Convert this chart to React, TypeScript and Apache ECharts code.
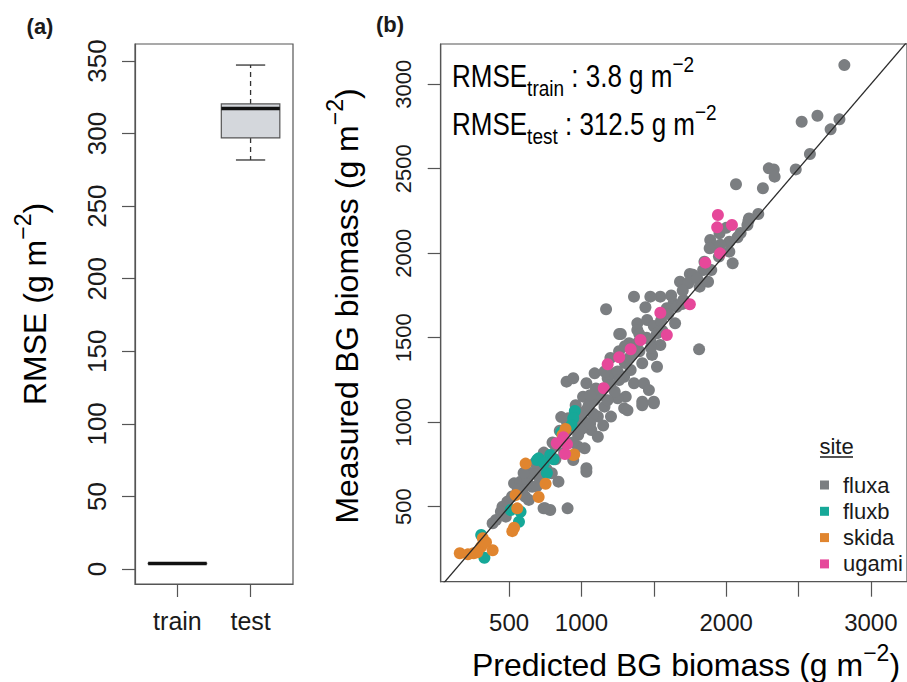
import React, { useEffect, useRef } from 'react';
import * as echarts from 'echarts';

// ---------- data ----------
const boxCategories = ['train', 'test'];
const boxPositions = [1, 2];
// [min, Q1, median, Q3, max]
const trainStats = [3.6, 3.7, 3.8, 3.9, 4.0];
const testStats = [281.8, 297.0, 317.2, 320.4, 347.2];
const rmseTicks = [0, 50, 100, 150, 200, 250, 300, 350];

const bgTicks = [500, 1000, 1500, 2000, 2500, 3000];
const bgXLabels = [500, 1000, 2000, 3000];
const siteNames = ['fluxa', 'fluxb', 'skida', 'ugami'];
const siteColors = ['#7b7e81', '#16a898', '#e0852f', '#e6489a'];

// [predicted, measured]
const fluxa = [
  [2817, 3113], [2522, 2778], [2631, 2813], [2783, 2792], [2722, 2733], [2579, 2587], [2481, 2496],
  [2295, 2502], [2329, 2496], [2335, 2453], [2068, 2408], [2254, 2384], [2158, 2206], [2222, 2232],
  [2154, 2192], [2147, 2167], [2079, 2094], [2022, 2068], [1954, 2118], [1890, 2078], [1909, 2038],
  [1886, 2029], [2022, 2009], [2045, 1940], [1841, 1900], [1897, 1900], [1749, 1877], [1772, 1872],
  [1681, 1831], [1738, 1822], [1817, 1802], [1875, 1831], [1704, 1723], [1636, 1703], [1545, 1743],
  [1476, 1743], [1363, 1743], [1170, 1668], [1442, 1680], [1590, 1674], [1659, 1683], [1386, 1585],
  [1454, 1605], [1500, 1569], [1261, 1522], [1386, 1546], [1522, 1526], [1647, 1585], [1476, 1486],
  [1329, 1467], [1813, 1431], [1272, 1522], [1386, 1467], [1545, 1457], [1488, 1398], [1522, 1328],
  [1420, 1349], [1340, 1309], [1295, 1269], [1091, 1289], [897, 1240], [943, 1260], [1034, 1230],
  [1181, 1260], [1227, 1289], [1363, 1230], [1432, 1230], [1466, 1190], [1306, 1151], [1250, 1141],
  [1420, 1121], [1500, 1121], [1295, 1082], [1159, 1092], [1091, 1131], [1011, 1151], [1034, 1072],
  [1113, 1033], [1204, 1033], [1022, 1003], [1068, 954], [1113, 914], [977, 924], [1022, 845],
  [943, 776], [1034, 727], [909, 1023], [977, 983], [534, 638], [579, 648], [625, 658], [704, 677],
  [659, 618], [636, 540], [488, 530], [454, 500], [443, 470], [409, 421], [386, 402], [477, 441],
  [750, 490], [784, 480], [904, 490], [841, 648], [795, 698], [727, 747], [977, 855], [1034, 707],
  [590, 599], [1500, 1112], [1420, 1100], [1318, 1070], [738, 490], [650, 700], [700, 740],
  [760, 800], [820, 860], [870, 900], [900, 950], [850, 950], [800, 880], [760, 720], [690, 620],
  [610, 560], [560, 600], [520, 560], [600, 700], [680, 760], [740, 820], [820, 780], [880, 820],
  [940, 880], [960, 980], [1000, 1050], [1050, 1100], [1100, 1180], [1150, 1200], [1200, 1220],
  [1250, 1300], [1300, 1350], [1350, 1400], [1400, 1420], [1450, 1500], [1550, 1600], [1600, 1640],
  [1700, 1780], [1230, 1180], [1180, 1130], [1130, 1160], [1080, 1050], [1000, 960], [1060, 990],
  [1150, 980], [1260, 1250], [1330, 1380], [1400, 1520], [1260, 1420], [1200, 1380], [1100, 1200],
  [1060, 1160], [960, 1100], [900, 1000], [860, 1030], [1160, 1300], [1300, 1450], [1620, 1750],
  [1800, 1850], [1960, 2050], [2100, 2120], [2000, 2150], [1950, 1980], [1850, 1950], [1700, 1700],
  [1560, 1540], [1480, 1440],
];
const fluxb = [
  [954, 1066], [943, 1023], [931, 983], [704, 786], [784, 806], [693, 776], [807, 780], [761, 699],
  [511, 480], [579, 470], [568, 411], [307, 333], [329, 198], [860, 940], [740, 760],
];
const skida = [
  [614, 755], [943, 806], [752, 636], [545, 569], [704, 557], [556, 490], [534, 375], [522, 355],
  [318, 313], [307, 263], [159, 224], [215, 218], [255, 224], [386, 242], [869, 924], [950, 809],
  [890, 960], [280, 230], [340, 290],
];
const ugami = [
  [1943, 2226], [1938, 2153], [2040, 2167], [1958, 1999], [1856, 1944], [1749, 1698], [1545, 1648],
  [1590, 1516], [1408, 1486], [1340, 1432], [1261, 1384], [1181, 1343], [1154, 1201], [875, 911],
  [829, 875], [886, 812], [900, 870],
];
const siteData = [fluxa, fluxb, skida, ugami];
const refLine = [[0, 0], [3400, 3400]];

const SANS = '"Liberation Sans", Arial, Helvetica, sans-serif';
const TXT = '#1a1a1a';

export default function App() {
  const ref = useRef<HTMLDivElement>(null);

  useEffect(() => {
    document.body.style.margin = '0';
    if (!ref.current) return;
    const chart = echarts.init(ref.current, undefined, { renderer: 'svg' });

    const boxData = [
      [boxPositions[0], ...trainStats],
      [boxPositions[1], ...testStats],
    ];

    const renderBox = (params: any, api: any) => {
      const x = api.value(0);
      const mn = api.value(1), q1 = api.value(2), md = api.value(3), q3 = api.value(4), mx = api.value(5);
      const w = api.size([0.8, 0])[0];
      const half = w / 2;
      const cap = w / 4;
      const pMax = api.coord([x, mx]);
      const pQ3 = api.coord([x, q3]);
      const pMd = api.coord([x, md]);
      const pQ1 = api.coord([x, q1]);
      const pMin = api.coord([x, mn]);
      const cx = pMd[0];
      const wh = { stroke: '#333', lineWidth: 1.3, lineDash: [5, 4] };
      const cs = { stroke: '#333', lineWidth: 1.3 };
      return {
        type: 'group',
        children: [
          { type: 'line', shape: { x1: cx, y1: pQ3[1], x2: cx, y2: pMax[1] }, style: wh },
          { type: 'line', shape: { x1: cx, y1: pQ1[1], x2: cx, y2: pMin[1] }, style: wh },
          { type: 'line', shape: { x1: cx - cap, y1: pMax[1], x2: cx + cap, y2: pMax[1] }, style: cs },
          { type: 'line', shape: { x1: cx - cap, y1: pMin[1], x2: cx + cap, y2: pMin[1] }, style: cs },
          {
            type: 'rect',
            shape: { x: cx - half, y: pQ3[1], width: w, height: pQ1[1] - pQ3[1] },
            style: { fill: '#d4d7dc', stroke: '#555', lineWidth: 1.2 },
          },
          {
            type: 'line',
            shape: { x1: cx - half, y1: pMd[1], x2: cx + half, y2: pMd[1] },
            style: { stroke: '#111', lineWidth: 3.5 },
          },
        ],
      };
    };

    const axisCommon = {
      splitLine: { show: false },
      axisLine: { show: true, onZero: false, lineStyle: { color: '#555', width: 1.2 } },
    };

    const plain = (v: number) => String(v);

    const richMain = (size: number, fam: string) => ({
      m: { fontSize: size, fontFamily: fam, color: TXT, lineHeight: size * 1.5, verticalAlign: 'middle' },
      s: { fontSize: Math.round(size * 0.72), fontFamily: fam, color: TXT, lineHeight: size * 1.24, verticalAlign: 'bottom' },
      p: { fontSize: Math.round(size * 0.72), fontFamily: fam, color: TXT, lineHeight: size * 1.5, verticalAlign: 'top' },
    });

    const option: any = {
      animation: false,
      backgroundColor: '#ffffff',
      grid: [
        { left: 135, top: 44, width: 158, height: 540, show: true, borderColor: '#555', borderWidth: 1.2 },
        { left: 440.7, top: 44, width: 472.8, height: 537.7, show: true, borderColor: '#555', borderWidth: 1.2 },
      ],
      xAxis: [
        {
          gridIndex: 0, type: 'value', min: 0.42, max: 2.58, ...axisCommon,
          axisTick: { show: true, customValues: boxPositions, length: 13, lineStyle: { color: '#555', width: 1.2 } },
          axisLabel: {
            customValues: boxPositions, margin: 24, fontSize: 25, fontFamily: SANS, color: TXT,
            formatter: (v: number) => boxCategories[boxPositions.indexOf(v)] ?? '',
          },
        },
        {
          gridIndex: 1, type: 'value', min: 27, max: 3250, ...axisCommon,
          axisTick: { show: true, customValues: bgTicks, length: 15, lineStyle: { color: '#555', width: 1.2 } },
          axisLabel: { customValues: bgXLabels, margin: 29, fontSize: 24, fontFamily: SANS, color: TXT, formatter: plain },
        },
      ],
      yAxis: [
        {
          gridIndex: 0, type: 'value', min: -10.3, max: 361.7, ...axisCommon,
          axisTick: { show: true, customValues: rmseTicks, length: 13, lineStyle: { color: '#555', width: 1.2 } },
          axisLabel: { customValues: rmseTicks, rotate: 90, margin: 25, fontSize: 26, fontFamily: SANS, color: TXT, formatter: plain },
        },
        {
          gridIndex: 1, type: 'value', min: 56, max: 3238, ...axisCommon,
          axisTick: { show: true, customValues: bgTicks, length: 13, lineStyle: { color: '#555', width: 1.2 } },
          axisLabel: { customValues: bgTicks, rotate: 90, margin: 26, fontSize: 22, fontFamily: SANS, color: TXT, formatter: plain },
        },
      ],
      legend: {
        data: siteNames,
        orient: 'vertical',
        left: 815,
        top: 469,
        icon: 'rect',
        itemWidth: 9,
        itemHeight: 9,
        itemGap: 4.3,
        textStyle: { fontSize: 22, fontFamily: SANS, color: TXT, lineHeight: 22, padding: [0, 0, 0, 9] },
      },
      series: [
        {
          type: 'custom',
          xAxisIndex: 0,
          yAxisIndex: 0,
          renderItem: renderBox,
          encode: { x: 0, y: [1, 2, 3, 4, 5] },
          data: boxData,
          silent: true,
        },
        ...siteNames.map((name, i) => ({
          name,
          type: 'scatter',
          xAxisIndex: 1,
          yAxisIndex: 1,
          symbolSize: 12,
          itemStyle: { color: siteColors[i], opacity: 1 },
          data: siteData[i],
        })),
        {
          type: 'line',
          xAxisIndex: 1,
          yAxisIndex: 1,
          data: refLine,
          symbol: 'none',
          clip: true,
          lineStyle: { color: '#2b2b2b', width: 1.3 },
          silent: true,
        },
      ],
      graphic: [
        { type: 'text', x: 40, y: 26, style: { text: '(a)', fontSize: 22, fontWeight: 'bold', fontFamily: SANS, fill: TXT, textAlign: 'center', textVerticalAlign: 'middle' } },
        { type: 'text', x: 390, y: 24, style: { text: '(b)', fontSize: 22, fontWeight: 'bold', fontFamily: SANS, fill: TXT, textAlign: 'center', textVerticalAlign: 'middle' } },
        {
          type: 'text', x: 35, y: 304, rotation: Math.PI / 2,
          style: { text: '{m|RMSE (g m}{p|−2}{m|)}', rich: richMain(32, SANS), textAlign: 'center', textVerticalAlign: 'middle' },
        },
        {
          type: 'text', x: 347, y: 306, rotation: Math.PI / 2,
          style: { text: '{m|Measured BG biomass (g m}{p|−2}{m|)}', rich: richMain(32, SANS), textAlign: 'center', textVerticalAlign: 'middle' },
        },
        {
          type: 'text', x: 686, y: 665,
          style: { text: '{m|Predicted BG biomass (g m}{p|−2}{m|)}', rich: richMain(32, SANS), textAlign: 'center', textVerticalAlign: 'middle' },
        },
        {
          type: 'text', x: 452, y: 76, scaleY: 1.2,
          style: { text: '{m|RMSE}{s|train}{m| : 3.8 g m}{p|−2}', rich: richMain(26, SANS), textAlign: 'left', textVerticalAlign: 'middle' },
        },
        {
          type: 'text', x: 452, y: 124, scaleY: 1.2,
          style: { text: '{m|RMSE}{s|test}{m| : 312.5 g m}{p|−2}', rich: richMain(26, SANS), textAlign: 'left', textVerticalAlign: 'middle' },
        },
        {
          type: 'text', x: 836.5, y: 446,
          style: { text: 'site', fontSize: 22, fontFamily: SANS, fill: TXT, textAlign: 'center', textVerticalAlign: 'middle' },
        },
        { type: 'line', shape: { x1: 820, y1: 457, x2: 853, y2: 457 }, style: { stroke: TXT, lineWidth: 1.3 } },
      ],
    };

    chart.setOption(option);
    return () => chart.dispose();
  }, []);

  return <div ref={ref} style={{ width: 907, height: 682 }} />;
}
